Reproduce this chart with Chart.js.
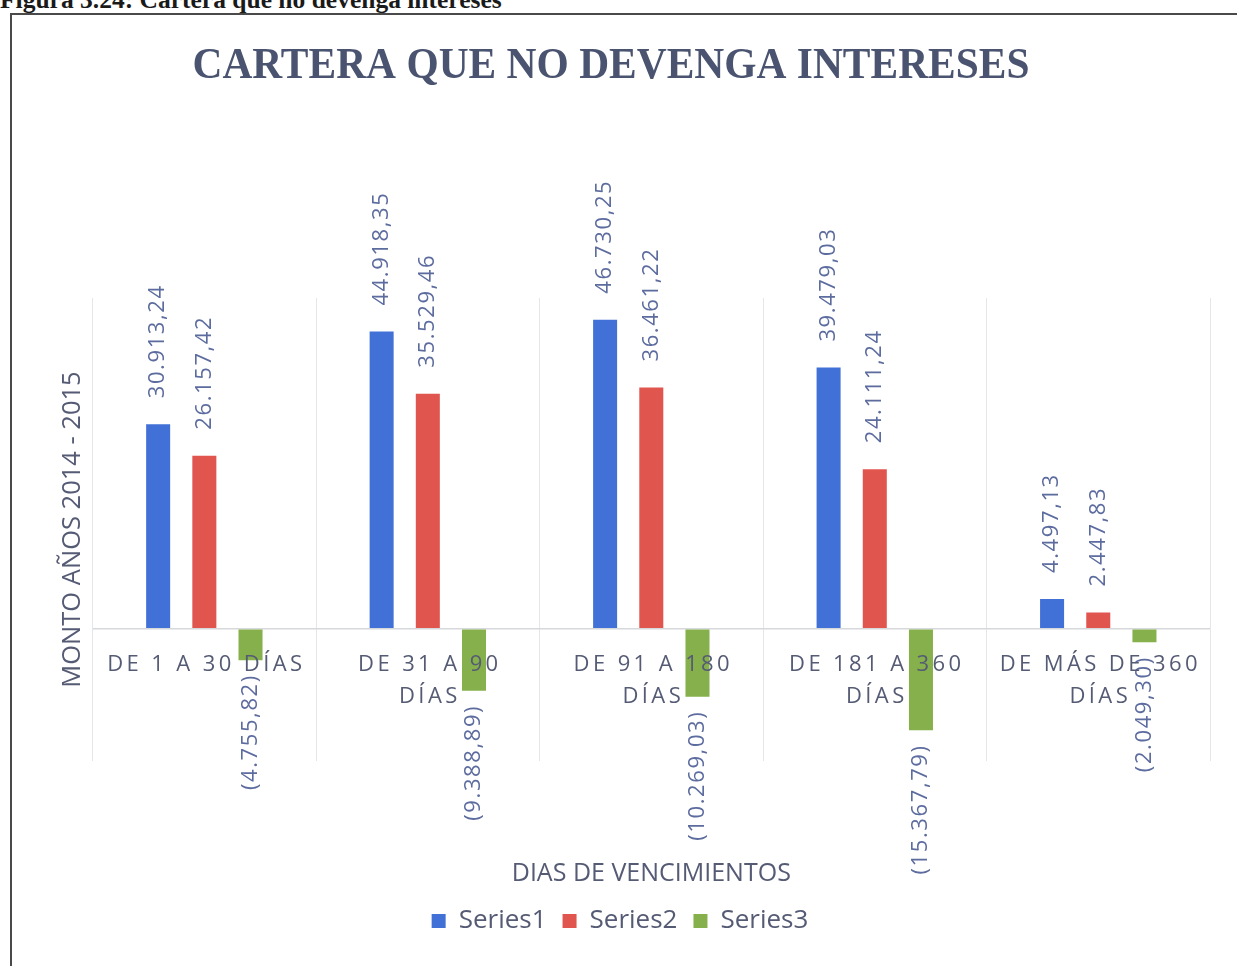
<!DOCTYPE html>
<html><head><meta charset="utf-8">
<script src="https://cdn.jsdelivr.net/npm/chart.js@4.4.1/dist/chart.umd.min.js"></script>
<style>
html,body{margin:0;padding:0;background:#fff;overflow:hidden}
#wrap{position:relative;width:1237px;height:966px;overflow:hidden}
#cap{position:absolute;left:0;top:-15px;font:bold 25.5px "Liberation Serif",serif;color:#1a1a1a;white-space:nowrap}
#frame{position:absolute;left:10px;top:13px;width:1300px;height:1000px;border:2px solid #4a4a4a;box-sizing:border-box}
canvas{position:absolute;left:0;top:0}
</style></head><body>
<div id="wrap">
<div id="cap">Figura 3.24: Cartera que no devenga intereses</div>
<div id="frame"></div>
<canvas id="c" width="1237" height="966"></canvas>
</div>
<script>
const chartTitle = 'CARTERA QUE NO DEVENGA INTERESES';
const yAxisTitle = 'MONTO AÑOS 2014 - 2015';
const xAxisTitle = 'DIAS DE VENCIMIENTOS';
const categories = [['DE 1 A 30 DÍAS'], ['DE 31 A 90', 'DÍAS'], ['DE 91 A 180', 'DÍAS'], ['DE 181 A 360', 'DÍAS'], ['DE MÁS DE 360', 'DÍAS']];
const seriesNames = ['Series1', 'Series2', 'Series3'];
const series1 = [30913.24, 44918.35, 46730.25, 39479.03, 4497.13];
const series2 = [26157.42, 35529.46, 36461.22, 24111.24, 2447.83];
const series3 = [-4755.82, -9388.89, -10269.03, -15367.79, -2049.30];
const yMin = -20000, yMax = 50000, yStep = 10000;

const colors = ['#4170d6', '#e0554e', '#86b04b'];
const labelColor = '#5d6c9f';
const catColor = '#555b74';

function fmt(v) {
  const parts = Math.abs(v).toFixed(2).split('.');
  const intPart = parts[0].replace(/\B(?=(\d{3})+(?!\d))/g, '.');
  const s = intPart + ',' + parts[1];
  return v < 0 ? '(' + s + ')' : s;
}

const overlay = {
  id: 'overlay',
  afterDatasetsDraw(chart) {
    const ctx = chart.ctx;
    const xs = chart.scales.x, ys = chart.scales.y;
    chart.data.datasets.forEach((ds, di) => {
      const meta = chart.getDatasetMeta(di);
      meta.data.forEach((bar, i) => {
        const v = ds.data[i];
        ctx.save();
        ctx.font = '22px "Open Sans"';
        ctx.letterSpacing = '1.6px';
        ctx.fillStyle = labelColor;
        ctx.textBaseline = 'middle';
        if (v >= 0) {
          ctx.translate(bar.x, bar.y - 26);
          ctx.rotate(-Math.PI / 2);
          ctx.textAlign = 'left';
        } else {
          ctx.translate(bar.x, bar.y + 14);
          ctx.rotate(-Math.PI / 2);
          ctx.textAlign = 'right';
        }
        ctx.fillText(fmt(v), 0, 0);
        ctx.restore();
      });
    });
    const y0 = ys.getPixelForValue(0);
    ctx.save();
    ctx.font = '22px "Open Sans"';
    ctx.letterSpacing = '3.4px';
    ctx.fillStyle = catColor;
    ctx.textAlign = 'center';
    ctx.textBaseline = 'middle';
    categories.forEach((lines, i) => {
      const cx = xs.getPixelForValue(i) + 2;
      lines.forEach((ln, k) => ctx.fillText(ln, cx, y0 + 36 + k * 32));
    });
    ctx.restore();
  },
  afterDraw(chart) {
    const ctx = chart.ctx;
    ctx.save();
    ctx.font = 'bold 45px "Liberation Serif"';
    ctx.fillStyle = '#4a5470';
    ctx.textAlign = 'center';
    ctx.textBaseline = 'alphabetic';
    const w = ctx.measureText(chartTitle).width;
    const sx = 837 / w;
    ctx.translate(611, 78);
    ctx.scale(sx, 1);
    ctx.fillText(chartTitle, 0, 0);
    ctx.restore();
  }
};

new Chart(document.getElementById('c'), {
  type: 'bar',
  data: {
    labels: categories,
    datasets: [
      { label: seriesNames[0], data: series1, backgroundColor: colors[0] },
      { label: seriesNames[1], data: series2, backgroundColor: colors[1] },
      { label: seriesNames[2], data: series3, backgroundColor: colors[2] }
    ]
  },
  options: {
    responsive: false,
    animation: false,
    events: [],
    datasets: { bar: { categoryPercentage: 0.62, barPercentage: 0.52 } },
    layout: { padding: { left: 30, right: 27, top: 298, bottom: 22 } },
    plugins: {
      title: { display: false },
      tooltip: { enabled: false },
      legend: {
        position: 'bottom',
        labels: {
          font: { family: 'Open Sans', size: 26 },
          color: catColor,
          boxWidth: 14, boxHeight: 14, padding: 16
        }
      }
    },
    scales: {
      x: {
        ticks: { display: false },
        grid: { display: true, offset: true, drawTicks: false, color: '#e4e6ea', lineWidth: 1 },
        border: { display: false },
        title: { display: true, text: xAxisTitle, color: catColor, font: { family: 'Open Sans', size: 25 }, padding: { top: 98, bottom: 3 } }
      },
      y: {
        min: yMin, max: yMax,
        ticks: { display: false, stepSize: yStep },
        grid: { drawTicks: false, color: (c) => c.tick && c.tick.value === 0 ? '#d6d8dc' : 'rgba(0,0,0,0)', lineWidth: 1.5 },
        border: { display: false },
        title: { display: true, text: yAxisTitle, color: catColor, font: { family: 'Open Sans', size: 25.5 }, padding: { top: 27, bottom: 5 } }
      }
    }
  },
  plugins: [overlay]
});
</script>
</body></html>
